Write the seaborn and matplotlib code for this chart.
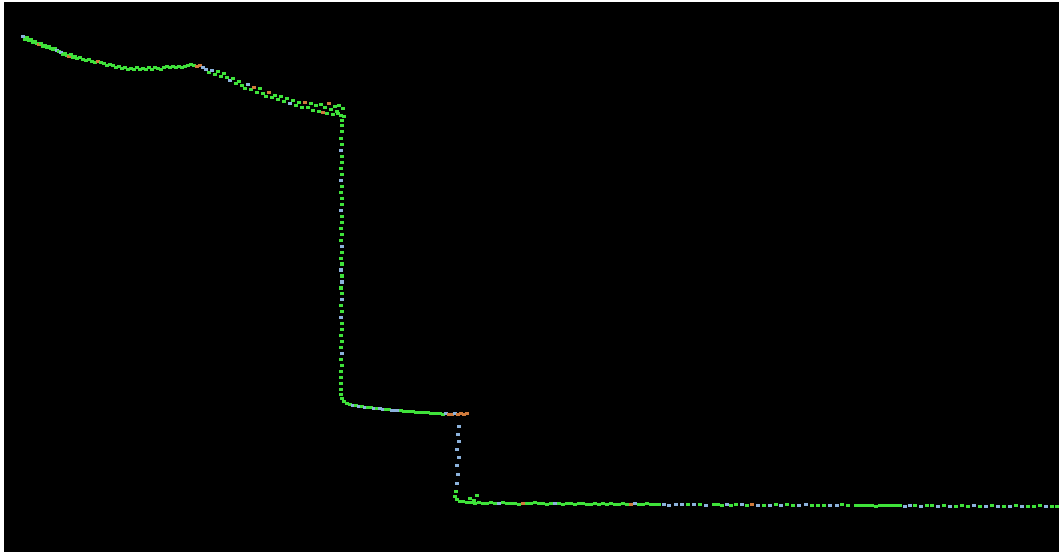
import matplotlib
matplotlib.use("Agg")
import matplotlib.pyplot as plt
import seaborn as sns
import pandas as pd

# ---- data: a point-cloud terrain profile (distance vs depth, depth grows downward) ----
# upper sloping terrace
x_upper = [23,25,27,29,31,33,35,37,39,41,43,45,47,49,51,53,55,57,59,61,63,65,67,69,71,73,75,77,80,83,
           86,89,92,95,98,101,104,107,110,113,116,119,122,125,128,131,134,137,140,143,146,149,152,155,158,
           161,164,167,170,173,176,179,182,185,188,191,194,197,200,203,206,209,212,215,218,221,224,227,230,
           233,236,239,242,245,248,251,254,257,260,263,266,269,272,275,278,281,284,287,290,293,296,299,302,
           305,308,311,313,316,319,321,323,325,327,329,331,333,335,337,339,341,343,344,338,342]
d_upper = [37,40,38,41,40,43,42,44,45,44,47,46,48,47,49,50,49,51,52,53,55,54,56,57,55,58,57,59,
           58,60,61,60,62,63,62,63,64,66,65,66,68,67,69,68,70,69,70,68,70,69,70,68,70,68,69,70,68,67,68,67,
           68,67,68,67,66,65,66,67,66,68,
           70,73,71,75,72,77,74,78,81,79,84,82,86,89,85,90,88,93,89,94,97,93,98,96,100,97,102,99,104,101,
           106,103,108,
           103,108,104,111,106,112,105,113,108,114,104,110,115,107,112,106,116,109,117,114,121]
c_upper = list("bgggggggoggggggggbgbgggoggggggggggoggggggggggggggggggggggggggggggggoobbgbgggggbgggggbgoggggoggggggbggggoggggggoggoggggggggggggg")

# first scarp (vertical drop)
x_scarp1 = [342,342,341,342,341,342,342,341,342,341,342,341,342,342,341,342,342,341,342,341,342,342,341,342,
            341,342,342,341,342,342,341,342,341,342,342,341,342,341,342,341,342,341,341,341,341,341,342,344,347]
d_scarp1 = [126,132,139,145,151,157,163,169,175,181,187,193,199,205,211,217,223,229,235,241,247,253,259,265,
            271,277,283,289,295,301,307,313,319,325,331,337,343,349,355,361,367,373,379,385,391,396,400,403,405]
c_scarp1 = list("ggggbggggbggggbgggggbgggbgbggbggbgggggbgggggggggg")

# middle bench
x_bench = [350,353,356,359,362,365,368,371,374,377,380,383,386,389,392,395,398,401,404,407,
           410,413,416,419,422,425,428,431,434,437,440,443,446,449,452,455,458,461,464,467]
d_bench = [406,407,407,408,408,409,409,409,410,410,410,411,411,411,412,412,412,412,413,413,
           413,413,414,414,414,414,414,415,415,415,415,416,415,416,416,415,416,415,416,415]
c_bench = list("gbgbgbggbgbbggbbbgggggggggggggggbooboooooo")[:40]

# second scarp
x_scarp2 = [459,458,459,457,459,457,458,457,456,455,457,460,470,477,474]
d_scarp2 = [428,436,443,451,459,467,476,485,493,498,501,503,500,497,502]
c_scarp2 = list("bbbbbbbbggggggg")

# lower plain
x_lower = [463,467,471,475,479,483,487,491,495,499,503,507,511,515,519,523,527,531,535,539,543,547,551,555,
           559,563,567,571,575,579,583,587,591,595,599,603,607,611,615,619,623,627,631,635,639,643,647,651,655,
           659,664,669,676,682,688,694,700,706,714,718,722,727,731,736,742,747,752,758,764,770,776,781,787,
           793,799,806,812,818,824,830,837,842,848,856,860,864,868,872,876,880,884,888,892,896,900,905,910,
           915,921,927,932,938,944,950,956,962,968,974,980,986,992,998,1004,1010,1016,1022,1028,1034,1040,
           1046,1052,1057]
d_lower = [503,504,504,505,504,505,505,504,505,505,504,505,505,505,506,505,505,505,504,505,505,506,505,505,
           505,506,505,505,506,505,505,506,506,505,506,505,506,505,506,506,505,506,506,505,506,506,505,506,506,
           506,506,507,506,506,506,506,506,507,506,506,507,506,507,506,506,507,506,507,507,507,506,507,506,
           507,507,506,507,507,507,507,507,506,507,507,507,507,507,507,508,507,507,507,507,507,507,508,507,
           507,508,507,507,508,507,508,508,507,508,507,508,508,507,508,508,508,507,508,508,508,507,508,
           508,508,508]
c_lower = list("gggggggggbgggggogggggggbggggggggggggggggggobggggggbbbbgbgbgggbggbgobgbgbggbbgggbbggggggggggggggbbgbggbgbgggbgbgbgbgbgggbgg")

palette = {"g": "#3fe23a", "b": "#8cb2dc", "o": "#cf7a3c"}

def seg(xs, ds, cs):
    n = min(len(xs), len(ds))
    cs = (cs + ["g"] * n)[:n]
    return pd.DataFrame({"distance": xs[:n], "depth": ds[:n], "cls": cs})

df = pd.concat([seg(x_upper, d_upper, c_upper),
                seg(x_scarp1, d_scarp1, c_scarp1),
                seg(x_bench, d_bench, c_bench),
                seg(x_scarp2, d_scarp2, c_scarp2),
                seg(x_lower, d_lower, c_lower)], ignore_index=True)

sns.set_theme(style="dark")
fig = plt.figure(figsize=(10.59, 5.56), dpi=100, facecolor="white")
ax = fig.add_axes([4 / 1059, 4 / 556, 1 - 4 / 1059, 550 / 556])
ax.set_facecolor("black")
sns.scatterplot(data=df, x="distance", y="depth", hue="cls", palette=palette,
                marker="s", s=5, linewidth=0, legend=False, ax=ax)
ax.set_xlim(4, 1059)
ax.set_ylim(554, 2)
ax.set_axis_off()
ax.add_artist(plt.Rectangle((0, 0), 1, 1, transform=ax.transAxes, color="black", zorder=-1))
fig.savefig("out.png", dpi=100, facecolor="white")
